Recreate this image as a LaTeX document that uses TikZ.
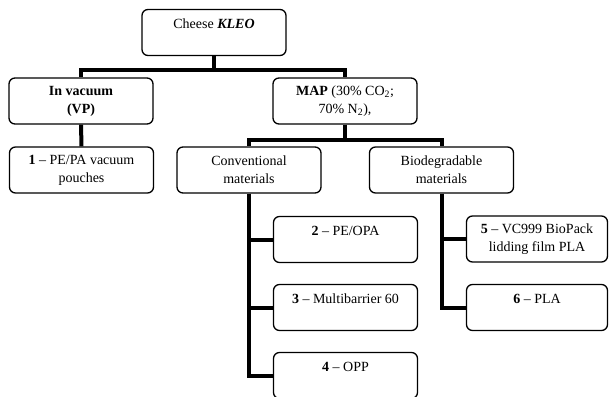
\documentclass[tikz,border=0pt]{standalone}
\usepackage{fontspec}
\setmainfont{Liberation Serif}
\usepackage{tikz}

\begin{document}
\begin{tikzpicture}[x=1pt, y=-1pt,
   box/.style={draw=black, line width=1.3pt, rounded corners=6pt, minimum width=144pt,
      minimum height=46pt, inner sep=2pt, align=center,
      font=\fontsize{14}{18}\selectfont},
   link/.style={line width=4pt}]
   \useasboundingbox (0,0) rectangle (609,396);
   \clip (0,0) rectangle (609,396);

   \node[box] (cheese) at (214,32.5) {Cheese \textbf{\textit{KLEO}}\\\mbox{}};
   \node[box] (vac) at (81,101) {\textbf{In vacuum}\\\textbf{(VP)}};
   \node[box] (map) at (345,101) {\textbf{MAP} (30\% CO\textsubscript{2};\\70\% N\textsubscript{2}),};
   \node[box] (p1) at (81.5,170) {\textbf{1} -- PE/PA vacuum\\pouches};
   \node[box] (conv) at (249,170) {Conventional\\materials};
   \node[box] (bio) at (441.5,170) {Biodegradable\\materials};
   \node[box] (p2) at (345.5,239.5) {\textbf{2} -- PE/OPA\\\mbox{}};
   \node[box] (p3) at (345.5,307.5) {\textbf{3} -- Multibarrier 60\\\mbox{}};
   \node[box] (p4) at (345.5,375.5) {\textbf{4} -- OPP\\\mbox{}};
   \node[box, minimum width=141pt] (p5) at (537,239) {\textbf{5} -- VC999 BioPack\\lidding film PLA};
   \node[box, minimum width=141pt] (p6) at (537,307.5) {\textbf{6} -- PLA\\\mbox{}};

   \draw[link] (cheese.south) -- ++(0,14) -| (vac.north);
   \draw[link] (cheese.south) -- ++(0,14) -| (map.north);
   \draw[link] (vac.south) -- (p1.north);
   \draw[link] (map.south) -- ++(0,15) -| (conv.north);
   \draw[link] (map.south) -- ++(0,15) -| (bio.north);

   \draw[link] (conv.south) |- (p2.west);
   \draw[link] (conv.south) |- (p3.west);
   \draw[link] (conv.south) |- (p4.west);

   \draw[link] (bio.south) |- (p5.west);
   \draw[link] (bio.south) |- (p6.west);
\end{tikzpicture}
\end{document}
